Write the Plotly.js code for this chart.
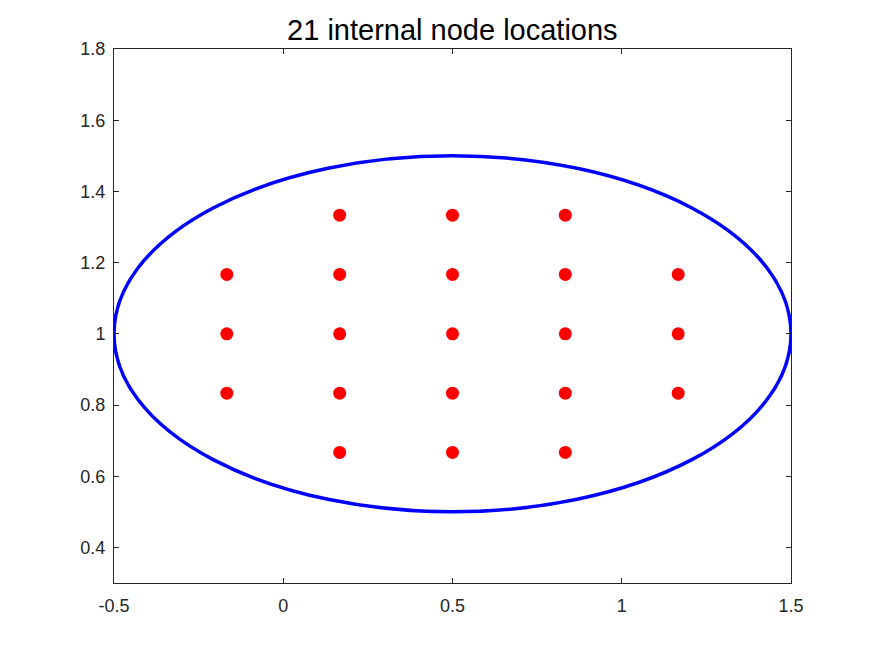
<!DOCTYPE html>
<html>
<head>
<meta charset="utf-8">
<script src="https://cdn.plot.ly/plotly-3.0.1.min.js"></script>
<style>html,body{margin:0;padding:0;background:#fff;}#chart{width:875px;height:656px;}</style>
</head>
<body>
<div id="chart"></div>
<script>
// Internal node coordinates (21 nodes)
const nodeX = [0.1667, 0.5, 0.8333,
               -0.1667, 0.1667, 0.5, 0.8333, 1.1667,
               -0.1667, 0.1667, 0.5, 0.8333, 1.1667,
               -0.1667, 0.1667, 0.5, 0.8333, 1.1667,
               0.1667, 0.5, 0.8333];
const nodeY = [1.3333, 1.3333, 1.3333,
               1.1667, 1.1667, 1.1667, 1.1667, 1.1667,
               1.0, 1.0, 1.0, 1.0, 1.0,
               0.8333, 0.8333, 0.8333, 0.8333, 0.8333,
               0.6667, 0.6667, 0.6667];
// Boundary ellipse bounding box (x0, x1, y0, y1)
const ellipseX = [-0.5, 1.5];
const ellipseY = [0.5, 1.5];
const xTicks = [-0.5, 0, 0.5, 1, 1.5];
const yTicks = [0.4, 0.6, 0.8, 1, 1.2, 1.4, 1.6, 1.8];

const FONT = 'Liberation Sans, Arial, sans-serif';
const axisCommon = {
  showline: true, mirror: 'ticks', linecolor: '#262626', linewidth: 1,
  ticks: 'inside', ticklen: 5, tickcolor: '#262626', tickwidth: 1,
  showgrid: false, zeroline: false,
  tickfont: {family: FONT, size: 18, color: '#262626'}
};

const data = [{
  x: nodeX, y: nodeY, type: 'scatter', mode: 'markers',
  marker: {color: '#FF0000', size: 13}, showlegend: false, hoverinfo: 'x+y'
}];

const layout = {
  width: 875, height: 656,
  margin: {l: 114, r: 84, t: 49, b: 73},
  paper_bgcolor: '#ffffff', plot_bgcolor: '#ffffff',
  title: {text: '21 internal node locations', x: 0.517, xanchor: 'center', y: 0.954, yanchor: 'middle',
          font: {family: FONT, size: 29, color: '#000000'}},
  xaxis: Object.assign({}, axisCommon, {range: [-0.5, 1.5], tickvals: xTicks, ticktext: xTicks.map(String), ticklabelstandoff: 6}),
  yaxis: Object.assign({}, axisCommon, {range: [0.3, 1.8], tickvals: yTicks, ticktext: yTicks.map(String), ticklabelstandoff: 4}),
  shapes: [{
    type: 'circle', xref: 'x', yref: 'y',
    x0: ellipseX[0], x1: ellipseX[1], y0: ellipseY[0], y1: ellipseY[1],
    line: {color: '#0000FF', width: 3.5}, layer: 'below'
  }]
};

Plotly.newPlot('chart', data, layout, {displayModeBar: false, staticPlot: true});
</script>
</body>
</html>
